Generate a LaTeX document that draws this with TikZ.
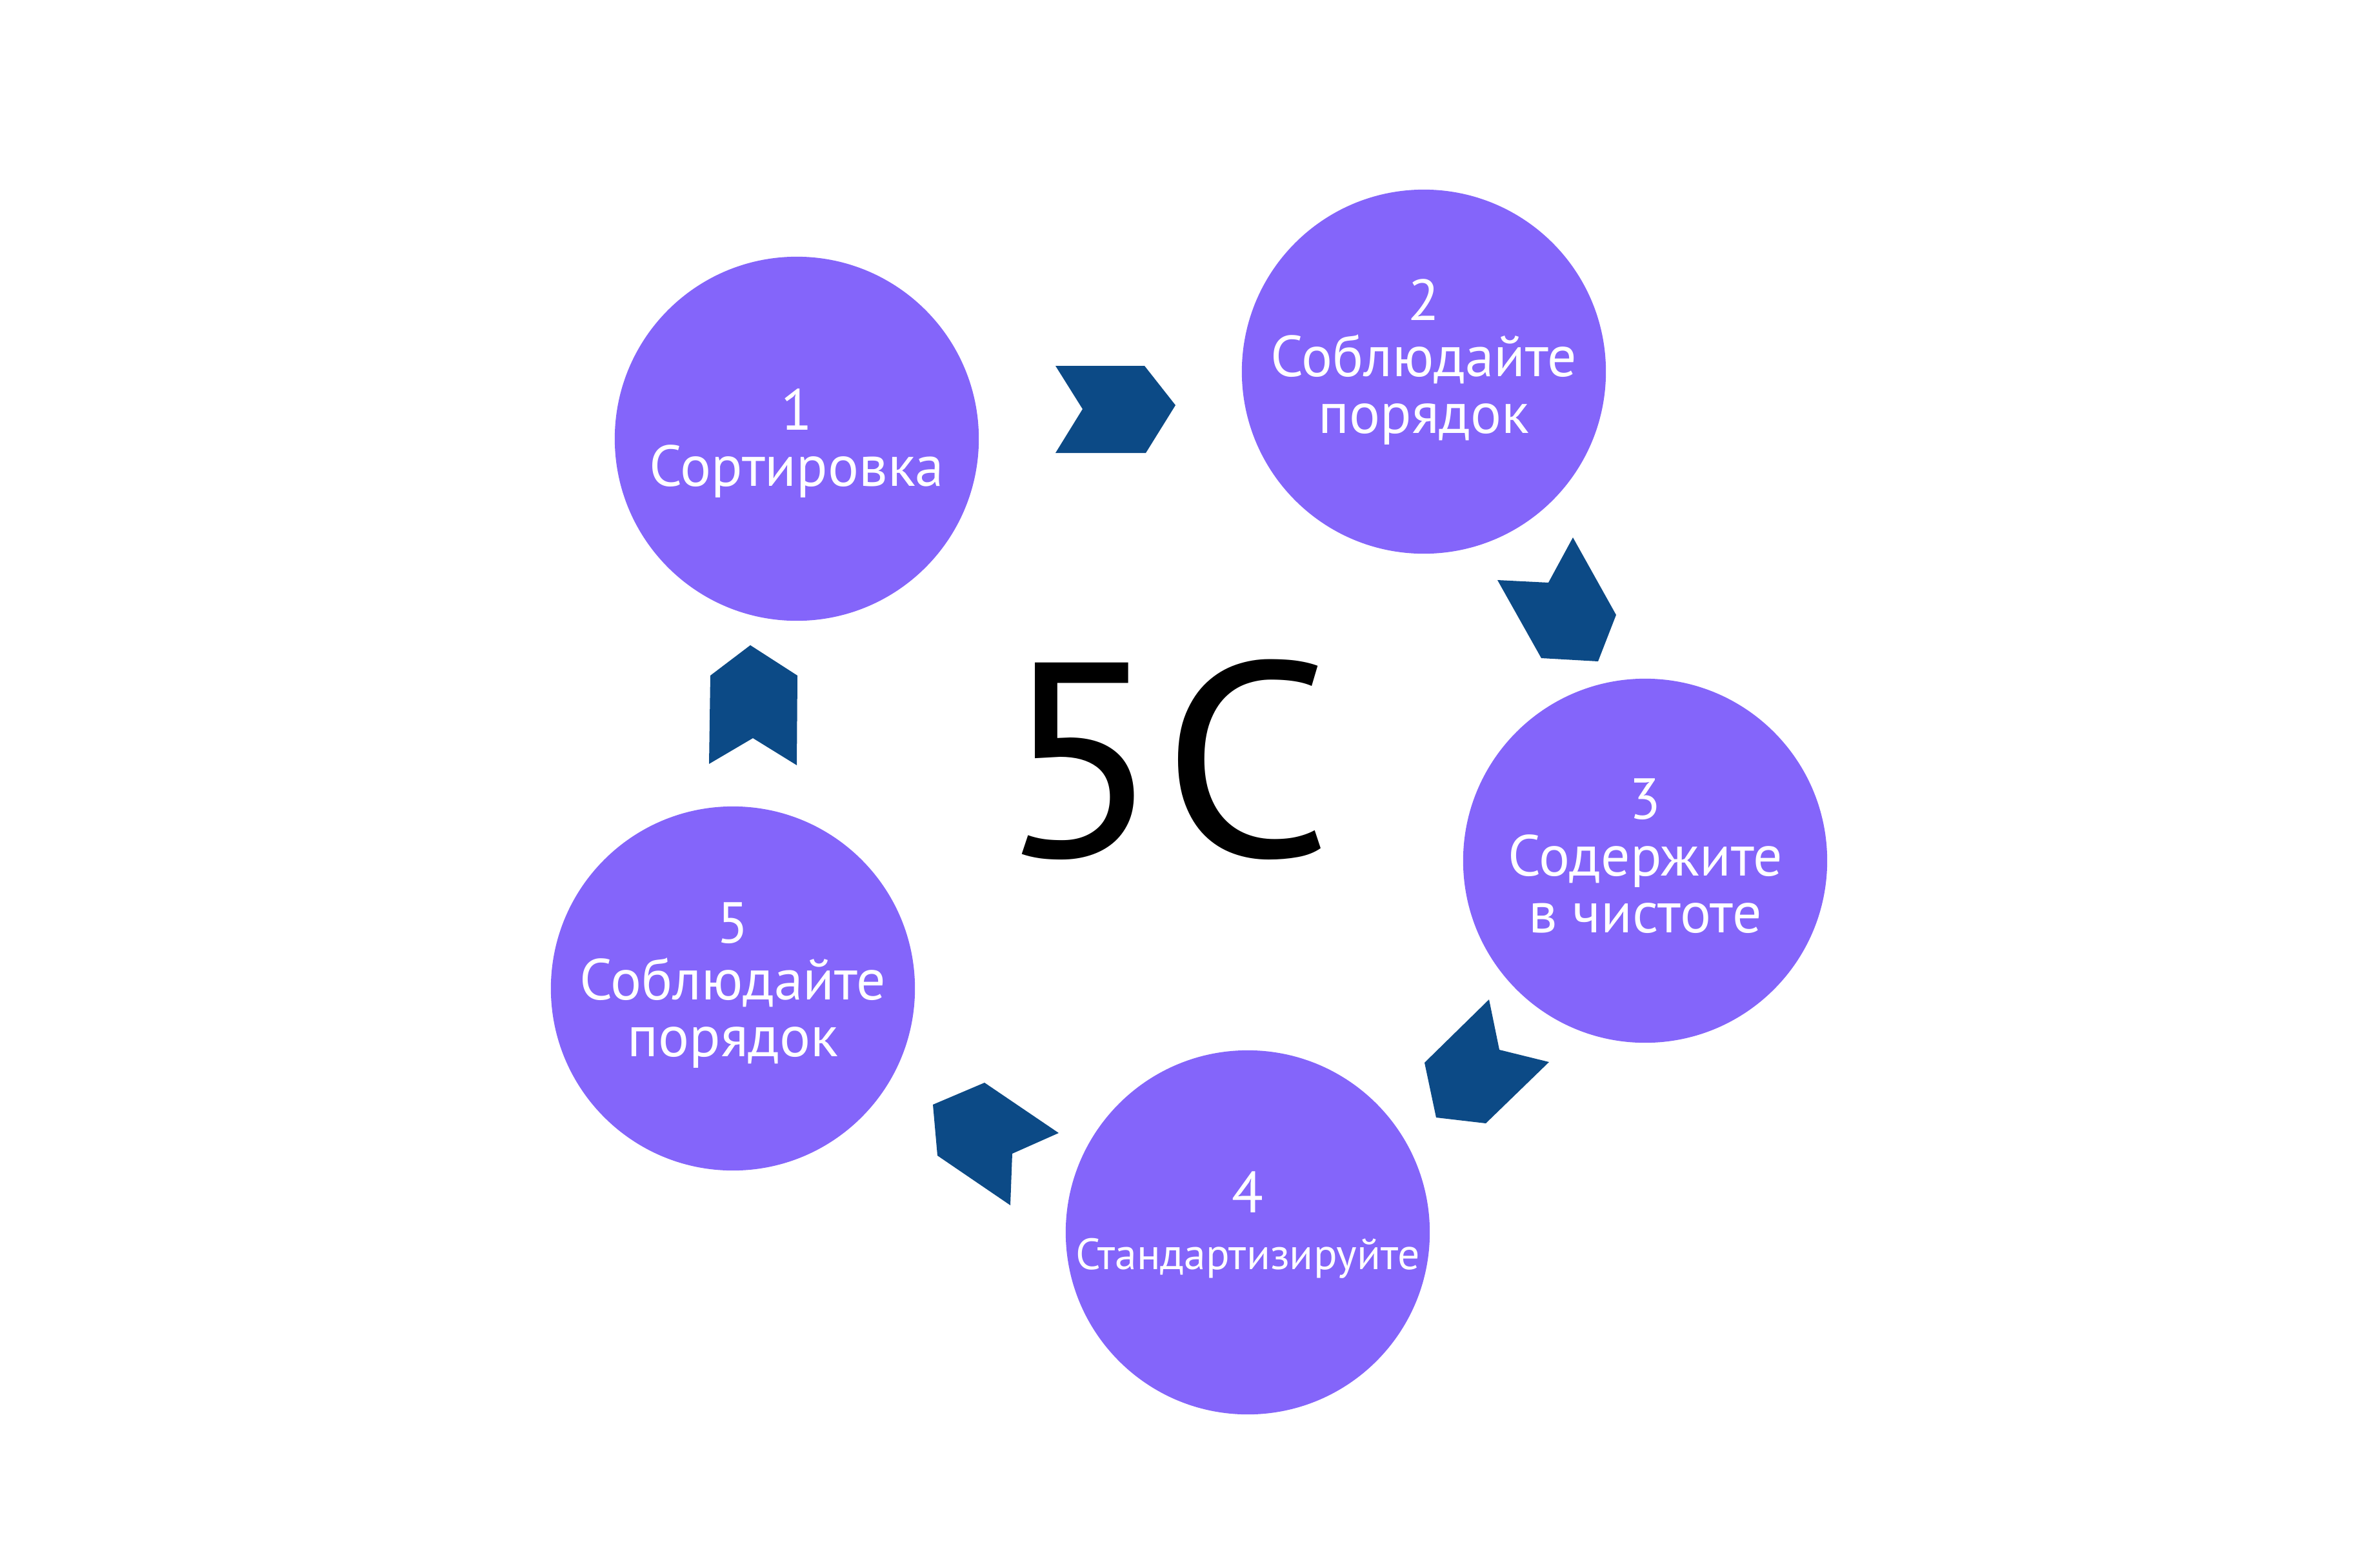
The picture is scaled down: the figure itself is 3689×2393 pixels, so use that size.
\documentclass[tikz,border=0pt]{standalone}
\usepackage{fontspec}
\setmainfont{PT Sans}

\definecolor{stagefill}{HTML}{8465FA}
\definecolor{chevblue}{HTML}{0C4A86}

\tikzset{
  stage/.style={circle, fill=stagefill, minimum size=5.64cm, inner sep=0pt},
  stagetext/.style={text=white, align=center, inner sep=0pt,
    font=\fontsize{25.5}{25}\selectfont},
  chev/.style={fill=chevblue}
}

\begin{document}
\begin{tikzpicture}[x=0.01cm, y=-0.01cm]
\useasboundingbox (0,0) rectangle (3689,2393);

\node[stage] (s1) at (1235,680) {};
\node[stage] (s2) at (2207,576) {};
\node[stage] (s3) at (2550,1334) {};
\node[stage] (s4) at (1934,1910) {};
\node[stage] (s5) at (1136,1532) {};

\node[stagetext, yshift=-0.07cm] (t1) at (s1) {1\\Сортировка};
\node[stagetext, yshift=0.15cm] (t2) at (s2) {2\\Соблюдайте\\порядок};
\node[stagetext, yshift=0.07cm] (t3) at (s3) {3\\Содержите\\в чистоте};
\node[stagetext, yshift=0.11cm] (t4) at (s4) {4\\{\fontsize{19.3}{25}\selectfont Стандартизируйте}};
\node[stagetext, yshift=0.05cm] (t5) at (s5) {5\\Соблюдайте\\порядок};

\node[font=\fontsize{122}{122}\selectfont] (title) at (1807,1177) {\scalebox{1.08}[1]{5C}};

% chevrons
\fill[chev] (1636,567) -- (1774,567) -- (1822,628) -- (1776,702) -- (1636,702) -- (1678,634) -- cycle;
\fill[chev] (2321,899) -- (2400,903) -- (2438,833) -- (2505,953) -- (2477,1025) -- (2389,1020) -- cycle;
\fill[chev] (2308,1549) -- (2324,1627) -- (2401,1646) -- (2303,1741) -- (2226,1732) -- (2208,1647) -- cycle;
\fill[chev] (1526,1678) -- (1641,1756) -- (1569,1788) -- (1566,1868) -- (1453,1791) -- (1446,1712) -- cycle;
\fill[chev] (1163,1000) -- (1236,1047) -- (1235,1186) -- (1167,1144) -- (1099,1184) -- (1101,1047) -- cycle;

\end{tikzpicture}
\end{document}
